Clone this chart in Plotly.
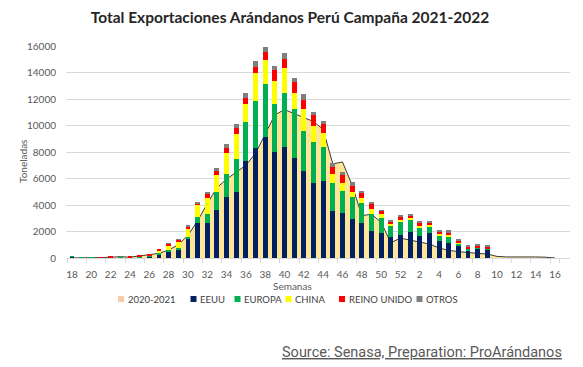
import plotly.graph_objects as go

weeks = ["18","19","20","21","22","23","24","25","26","27","28","29","30","31","32","33","34","35",
         "36","37","38","39","40","41","42","43","44","45","46","47","48","49","50","51","52",
         "1","2","3","4","5","6","7","8","9","10","11","12","13","14","15","16"]
tick_labels = ["18","20","22","24","26","28","30","32","34","36","38","40","42","44","46","48","50","52",
               "2","4","6","8","10","12","14","16"]

prev_2020_2021 = [0,0,0,30,60,100,60,150,250,350,600,1000,1700,2800,4100,5300,5950,6500,
                  7000,7900,9300,10800,11200,10900,10600,10300,9700,7100,7250,5500,3200,3300,2700,1150,1500,
                  1350,1250,1050,750,580,480,400,350,300,120,80,80,120,80,60,0]
eeuu = [80,0,0,20,30,20,40,40,80,300,480,600,1430,2620,2620,3620,4580,5000,
        7340,8330,9160,8030,8400,7570,6570,5640,5840,3550,3370,2940,2620,2060,1860,1560,1740,
        1990,1660,1860,1310,1160,930,600,700,650,0,0,0,0,0,0,0]
europa = [70,60,60,0,0,40,0,60,80,100,120,180,180,500,700,1370,1780,2500,
          2950,3540,3970,3590,4030,3680,3040,3090,2560,2090,1710,1640,1510,1240,1180,870,1050,
          880,660,500,400,450,180,80,110,80,0,0,0,0,0,0,0]
china = [0,0,0,0,0,0,0,50,60,130,360,450,630,850,1180,1260,1600,1870,
         1310,2070,1810,1760,1890,1180,1640,1230,1060,670,610,420,370,400,280,140,80,
         130,120,110,120,100,70,0,0,0,0,0,0,0,0,0,0]
reino_unido = [0,0,0,40,50,0,80,50,80,150,100,130,120,170,330,330,360,420,
               450,500,580,810,680,830,670,830,650,580,570,460,430,380,250,200,250,
               220,230,200,160,230,130,170,120,120,0,0,0,0,0,0,0]
otros = [0,0,0,0,0,0,0,0,0,0,40,70,80,80,100,180,250,310,
         380,450,380,300,500,300,430,210,260,250,210,250,150,120,50,100,100,
         130,120,120,120,150,100,80,70,60,0,0,0,0,0,0,0]

series = [("EEUU", eeuu, "#002060"), ("EUROPA", europa, "#00B050"), ("CHINA", china, "#FFFF00"),
          ("REINO UNIDO", reino_unido, "#FF0000"), ("OTROS", otros, "#7F7F7F")]

fig = go.Figure()
fig.add_trace(go.Scatter(x=weeks, y=prev_2020_2021, name="2020-2021", mode="lines",
                         fill="tozeroy", fillcolor="#FFE59A",
                         line=dict(color="#3A3A3A", width=1), showlegend=False,
                         xaxis="x", yaxis="y"))
for name, vals, col in series:
    fig.add_trace(go.Bar(x=weeks, y=vals, name=name, marker=dict(color=col, line=dict(width=0)),
                         showlegend=False, xaxis="x2", yaxis="y2"))

L, R, T, B = 66, 570, 46, 258
def px(xp):
    return (xp - L) / (R - L)
def py(yp):
    return (B - yp) / (B - T)

annotations = [
    dict(text="Toneladas", x=px(23), y=py(162), xref="paper", yref="paper", textangle=-90,
         xanchor="center", yanchor="middle",
         showarrow=False, font=dict(family="Lato", size=10, color="#595959")),
    dict(text="Semanas", x=px(292), y=py(286), xref="paper", yref="paper",
         xanchor="center", yanchor="middle",
         showarrow=False, font=dict(family="Lato", size=10, color="#595959")),
    dict(text="<u>Source: Senasa, Preparation: ProArándanos</u>", x=px(564), y=py(352),
         xref="paper", yref="paper", xanchor="right", yanchor="middle", showarrow=False,
         font=dict(family="Roboto", size=14.5, color="#595959")),
]
legend_items = [("2020-2021", "#F8CBAD", 121), ("EEUU", "#002060", 193.5), ("EUROPA", "#00B050", 237.5),
                ("CHINA", "#FFFF00", 288.5), ("REINO UNIDO", "#FF0000", 342), ("OTROS", "#7F7F7F", 419.5)]
shapes = []
for name, col, cx in legend_items:
    shapes.append(dict(type="rect", xref="paper", yref="paper",
                       x0=px(cx - 3), x1=px(cx + 3), y0=py(302), y1=py(296),
                       fillcolor=col, line=dict(width=0)))
    annotations.append(dict(text=name, x=px(cx + 4.5), y=py(299), xref="paper", yref="paper",
                            xanchor="left", yanchor="middle", showarrow=False,
                            font=dict(family="Lato", size=9.5, color="#404040")))

xcommon = dict(type="category", categoryorder="array", categoryarray=weeks, range=[-0.62, 51.55])

fig.update_layout(
    width=583, height=367, autosize=False,
    margin=dict(l=L, r=583 - R, t=T, b=367 - B),
    paper_bgcolor="white", plot_bgcolor="white",
    barmode="stack", bargap=0.5,
    title=dict(text="<b>Total Exportaciones Arándanos Perú Campaña 2021-2022</b>",
               x=290 / 583, xref="container", xanchor="center",
               y=1 - 18 / 367, yref="container", yanchor="middle",
               font=dict(family="Lato", size=15.5, color="#262626")),
    xaxis=dict(**xcommon, tickvals=tick_labels, ticktext=tick_labels, tickangle=0,
               showgrid=False, showline=True, linecolor="#D9D9D9", linewidth=1,
               ticks="outside", ticklen=4, tickcolor="#D9D9D9", tickson="boundaries",
               ticklabelstandoff=7,
               tickfont=dict(family="Lato", size=10, color="#595959")),
    yaxis=dict(range=[0, 16000], dtick=2000, tickformat="d", showgrid=True, gridcolor="#D9D9D9",
               gridwidth=1, zeroline=False, showline=False, ticks="", ticklabelstandoff=9,
               tickfont=dict(family="Lato", size=10, color="#595959")),
    xaxis2=dict(**xcommon, overlaying="x", visible=False),
    yaxis2=dict(range=[0, 16000], overlaying="y", visible=False),
    annotations=annotations, shapes=shapes,
)

fig.write_html("out.html", config={"displayModeBar": False},
               post_script="document.body.style.margin='0px';")
